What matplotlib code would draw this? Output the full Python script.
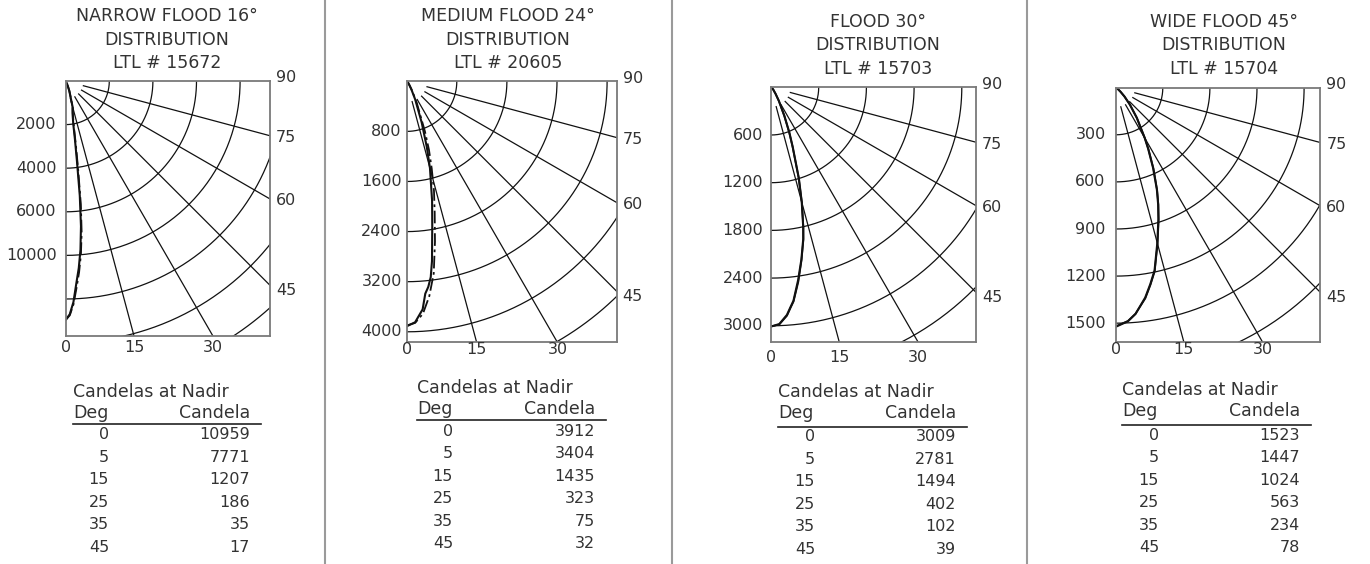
"""
四种配光的极坐标烛光分布图 + 底部的 Candelas at Nadir 表格。
"""

import numpy as np
import matplotlib

matplotlib.use("Agg")
import matplotlib.pyplot as plt

plt.rcParams["font.family"] = ["DejaVu Sans"]

# ---- 数据 ----
TITLES = ["NARROW FLOOD 16°", "MEDIUM FLOOD 24°", "FLOOD 30°", "WIDE FLOOD 45°"]
LTL_NUMBERS = ["15672", "20605", "15703", "15704"]
RING_STEP = [2000, 800, 600, 300]
RING_LABELS = [
    ["2000", "4000", "6000", "10000"],
    ["800", "1600", "2400", "3200", "4000"],
    ["600", "1200", "1800", "2400", "3000"],
    ["300", "600", "900", "1200", "1500"],
]
RADIAL_DEG = [15, 30, 45, 60, 75]
RIGHT_LABELS = [90, 75, 60, 45]
BOTTOM_LABELS = [0, 15, 30]

TABLE_DEG = [0, 5, 15, 25, 35, 45]
TABLE_CD = [
    [10959, 7771, 1207, 186, 35, 17],
    [3912, 3404, 1435, 323, 75, 32],
    [3009, 2781, 1494, 402, 102, 39],
    [1523, 1447, 1024, 563, 234, 78],
]

# 曲线: 实线平面 A, 点划线平面 B
nf_deg_a = [0, 1, 2, 3, 4, 5, 6, 7, 8, 9, 10, 12, 15, 20, 25, 35, 45, 90]
nf_cd_a = [10959, 10700, 10150, 9300, 8600, 7771, 6700, 5300, 3700, 2700, 2000, 1500, 1207, 480, 186, 35, 17, 0]
nf_deg_b = [0, 1, 2, 3, 4, 5, 6, 7, 8, 9, 10, 12, 15, 20, 25, 35, 45, 90]
nf_cd_b = [10959, 10750, 10250, 9500, 8800, 8000, 7000, 5700, 4100, 3000, 2200, 1600, 1250, 500, 190, 36, 17, 0]

mf_deg_a = [0, 2, 4, 5, 6, 7, 8, 10, 12, 15, 17, 20, 25, 30, 35, 45, 60, 90]
mf_cd_a = [3912, 3850, 3650, 3404, 3300, 3150, 2900, 2350, 1950, 1435, 1100, 700, 323, 150, 75, 32, 12, 0]
mf_deg_b = [0, 2, 4, 6, 8, 10, 12, 14, 16, 18, 20, 25, 30, 35, 45, 60, 90]
mf_cd_b = [3900, 3860, 3720, 3450, 3100, 2600, 2150, 1800, 1450, 1150, 850, 380, 170, 80, 33, 12, 0]

fl_deg_a = [0, 2, 4, 5, 6, 8, 10, 12, 13, 15, 17, 20, 22, 25, 30, 35, 45, 60, 90]
fl_cd_a = [3009, 2980, 2870, 2781, 2700, 2450, 2200, 1950, 1800, 1494, 1200, 800, 620, 402, 200, 102, 39, 12, 0]
fl_deg_b = fl_deg_a
fl_cd_b = [3009, 2985, 2880, 2790, 2710, 2470, 2210, 1960, 1810, 1500, 1190, 790, 610, 395, 195, 100, 38, 12, 0]

wf_deg_a = [0, 3, 5, 8, 10, 12, 15, 18, 20, 22, 25, 28, 30, 35, 40, 45, 50, 60, 90]
wf_cd_a = [1523, 1490, 1447, 1350, 1270, 1190, 1024, 880, 790, 700, 563, 440, 370, 234, 140, 78, 40, 15, 0]
wf_deg_b = wf_deg_a
wf_cd_b = [1520, 1488, 1445, 1355, 1275, 1195, 1030, 885, 795, 705, 570, 445, 372, 236, 141, 79, 40, 15, 0]

CURVES = [
    (nf_deg_a, nf_cd_a, nf_deg_b, nf_cd_b),
    (mf_deg_a, mf_cd_a, mf_deg_b, mf_cd_b),
    (fl_deg_a, fl_cd_a, fl_deg_b, fl_cd_b),
    (wf_deg_a, wf_cd_a, wf_deg_b, wf_cd_b),
]
DASH_B = [True, True, False, False]

# ---- 版面 (像素) ----
W_PX, H_PX = 1370, 564
# 框: left, top, right, bottom, 每圈像素
BOXES = [
    (65.7, 81.0, 270.0, 335.7, 43.6),
    (406.7, 81.3, 616.7, 342.3, 50.1),
    (771.0, 87.3, 976.0, 342.3, 47.7),
    (1115.7, 87.7, 1320.3, 342.3, 47.1),
]
TITLE_X = [167, 508, 878, 1224]
TITLE_Y = [16, 16, 21.7, 21.7]
LEFT_PAD = [9, 5, 8, 10]
BOTTOM_PAD = [4, 0, 8, 0]
# 表格: 左边, 标题行 y, 度数右对齐 x, 数值右对齐 x, 下划线右端, 下划线 y, 首行 y
TABLES = [
    (73, 392, 109, 250, 261, 424, 434.5),
    (417, 388, 453, 595, 606, 420, 431),
    (778, 392, 815, 956, 967, 426.5, 436.5),
    (1122, 390, 1159, 1300, 1311, 425, 435),
]
ROW_STEP = 22.6
SEPARATORS = [324.5, 672, 1027]
TEXT_C = "#333333"
FS = 11.5
FS_HEAD = 12.5


def fx(x):
    return x / W_PX


def fy(y):
    return 1 - y / H_PX


fig = plt.figure(figsize=(W_PX / 100, H_PX / 100), dpi=100)

for sx in SEPARATORS:
    fig.add_artist(plt.Line2D([fx(sx), fx(sx)], [0, 1], color="#9a9a9a", lw=1.5))

for i in range(4):
    left, top, right, bottom, step_px = BOXES[i]
    unit = RING_STEP[i]
    w = (right - left) / step_px * unit
    h = (bottom - top) / step_px * unit

    ax = fig.add_axes([fx(left), fy(bottom), fx(right - left), (bottom - top) / H_PX])
    ax.set_xlim(0, w)
    ax.set_ylim(-h, 0)
    ax.set_xticks([])
    ax.set_yticks([])
    for sp in ax.spines.values():
        sp.set_color("#7a7a7a")
        sp.set_linewidth(1.3)

    # 同心圆
    t = np.radians(np.linspace(0, 90, 200))
    n_rings = int(np.hypot(w, h) / unit)
    for k in range(1, n_rings + 1):
        r = k * unit
        ax.plot(r * np.sin(t), -r * np.cos(t), color="#111", lw=0.9)

    # 放射线
    for a in RADIAL_DEG:
        ar = np.radians(a)
        r0, r1 = 0.42 * unit, 20 * unit
        ax.plot([r0 * np.sin(ar), r1 * np.sin(ar)], [-r0 * np.cos(ar), -r1 * np.cos(ar)],
                color="#111", lw=0.9)

    # 配光曲线
    deg_a, cd_a, deg_b, cd_b = CURVES[i]
    ra = np.radians(deg_a)
    ax.plot(np.array(cd_a) * np.sin(ra), -np.array(cd_a) * np.cos(ra), color="#111", lw=1.5)
    rb = np.radians(deg_b)
    ax.plot(np.array(cd_b) * np.sin(rb), -np.array(cd_b) * np.cos(rb), color="#111", lw=1.3,
            linestyle=(0, (7, 2, 1.5, 2)) if DASH_B[i] else "-")

    # 左侧圈值
    for k, lab in enumerate(RING_LABELS[i], start=1):
        ax.annotate(lab, xy=(0, -k * unit), xytext=(-LEFT_PAD[i], 0), textcoords="offset pixels",
                    ha="right", va="center", fontsize=FS, color=TEXT_C, annotation_clip=False)

    # 右侧角度
    for a in RIGHT_LABELS:
        if a == 90:
            yy, dy = 0, 3
        else:
            yy, dy = -w / np.tan(np.radians(a)), -2 if a > 50 else -5
        ax.annotate(str(a), xy=(w, yy), xytext=(6, dy), textcoords="offset pixels",
                    ha="left", va="center", fontsize=FS, color=TEXT_C, annotation_clip=False)

    # 底部角度
    for a in BOTTOM_LABELS:
        xx = h * np.tan(np.radians(a))
        ax.annotate(str(a), xy=(xx, -h), xytext=(0, -BOTTOM_PAD[i]), textcoords="offset pixels",
                    ha="center", va="top", fontsize=FS, color=TEXT_C, annotation_clip=False)

    # 标题
    for j, line in enumerate([TITLES[i], "DISTRIBUTION", f"LTL # {LTL_NUMBERS[i]}"]):
        fig.text(fx(TITLE_X[i]), fy(TITLE_Y[i] + j * 23.6), line, ha="center", va="center",
                 fontsize=FS_HEAD, color=TEXT_C)

    # 表格
    tl, ty, deg_r, cd_r, line_r, line_y, row0 = TABLES[i]
    fig.text(fx(tl), fy(ty), "Candelas at Nadir", ha="left", va="center", fontsize=FS_HEAD, color=TEXT_C)
    fig.text(fx(tl), fy(ty + 21), "Deg", ha="left", va="center", fontsize=FS_HEAD, color=TEXT_C)
    fig.text(fx(cd_r), fy(ty + 21), "Candela", ha="right", va="center", fontsize=FS_HEAD, color=TEXT_C)
    fig.add_artist(plt.Line2D([fx(tl), fx(line_r)], [fy(line_y), fy(line_y)], color="#222", lw=1.2))
    for j, (d, c) in enumerate(zip(TABLE_DEG, TABLE_CD[i])):
        yy = fy(row0 + j * ROW_STEP)
        fig.text(fx(deg_r), yy, str(d), ha="right", va="center", fontsize=FS, color=TEXT_C)
        fig.text(fx(cd_r), yy, str(c), ha="right", va="center", fontsize=FS, color=TEXT_C)

fig.savefig("out.png", dpi=100)
